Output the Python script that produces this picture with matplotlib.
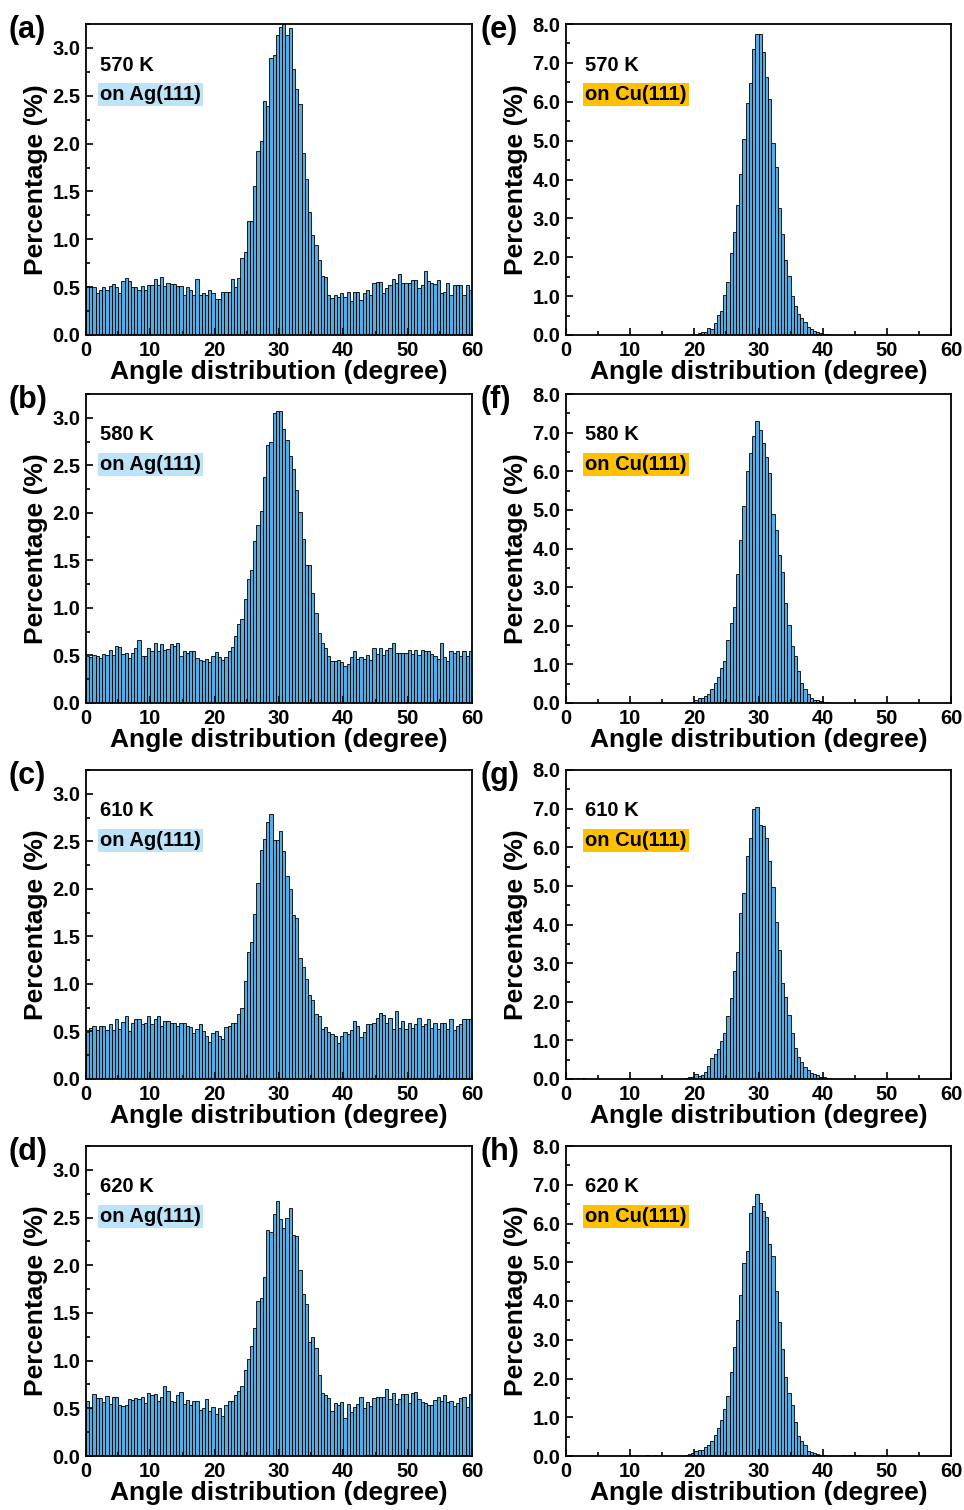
import numpy as np
import matplotlib.pyplot as plt
from matplotlib.ticker import MultipleLocator

plt.rcParams['font.family'] = ['Liberation Sans', 'DejaVu Sans']
plt.rcParams['font.weight'] = 'bold'

# ## Data: angle histograms, 0.5 degree bins from 0 to 60 degree (left edges)
bin_w = 0.5
angle = np.arange(0, 60, bin_w)

temps = ['570 K', '580 K', '610 K', '620 K']

ag_570 = [0.51, 0.50, 0.50, 0.44, 0.47, 0.50, 0.47, 0.51, 0.53, 0.50,
          0.44, 0.56, 0.60, 0.56, 0.50, 0.50, 0.47, 0.51, 0.47, 0.52,
          0.52, 0.59, 0.52, 0.61, 0.51, 0.54, 0.53, 0.53, 0.51, 0.51,
          0.42, 0.50, 0.47, 0.42, 0.59, 0.42, 0.44, 0.42, 0.47, 0.44,
          0.38, 0.38, 0.45, 0.45, 0.45, 0.58, 0.50, 0.60, 0.80, 0.87,
          1.19, 1.19, 1.56, 1.92, 2.03, 2.45, 2.39, 2.89, 2.93, 3.14,
          3.22, 3.25, 3.13, 3.21, 2.78, 2.57, 2.41, 1.90, 1.63, 1.29,
          1.05, 0.94, 0.78, 0.62, 0.61, 0.42, 0.39, 0.42, 0.40, 0.44,
          0.40, 0.45, 0.36, 0.45, 0.45, 0.37, 0.44, 0.47, 0.42, 0.54,
          0.55, 0.55, 0.44, 0.49, 0.52, 0.59, 0.54, 0.64, 0.54, 0.54,
          0.54, 0.57, 0.57, 0.49, 0.52, 0.67, 0.56, 0.54, 0.53, 0.57,
          0.44, 0.45, 0.54, 0.42, 0.52, 0.52, 0.52, 0.42, 0.52, 0.47]

ag_580 = [0.49, 0.48, 0.50, 0.49, 0.47, 0.52, 0.50, 0.56, 0.50, 0.60,
          0.59, 0.52, 0.53, 0.47, 0.53, 0.58, 0.66, 0.49, 0.49, 0.58,
          0.55, 0.63, 0.55, 0.62, 0.56, 0.57, 0.62, 0.60, 0.63, 0.49,
          0.55, 0.53, 0.55, 0.55, 0.47, 0.45, 0.44, 0.46, 0.43, 0.49,
          0.54, 0.48, 0.45, 0.48, 0.55, 0.59, 0.70, 0.83, 0.88, 1.09,
          1.30, 1.40, 1.70, 1.87, 2.02, 2.38, 2.71, 2.74, 3.05, 3.07,
          3.07, 2.88, 2.77, 2.60, 2.46, 2.24, 2.01, 1.72, 1.45, 1.45,
          1.16, 0.95, 0.74, 0.63, 0.58, 0.49, 0.44, 0.44, 0.45, 0.43,
          0.39, 0.41, 0.48, 0.55, 0.46, 0.48, 0.46, 0.50, 0.45, 0.58,
          0.52, 0.58, 0.51, 0.56, 0.58, 0.63, 0.53, 0.53, 0.53, 0.53,
          0.56, 0.52, 0.56, 0.51, 0.56, 0.55, 0.55, 0.52, 0.49, 0.46,
          0.63, 0.48, 0.44, 0.55, 0.53, 0.55, 0.49, 0.55, 0.49, 0.55]

ag_610 = [0.49, 0.54, 0.56, 0.52, 0.56, 0.56, 0.52, 0.58, 0.52, 0.63,
          0.53, 0.60, 0.66, 0.51, 0.59, 0.63, 0.63, 0.58, 0.59, 0.66,
          0.58, 0.63, 0.66, 0.56, 0.61, 0.61, 0.59, 0.59, 0.56, 0.59,
          0.59, 0.56, 0.55, 0.48, 0.53, 0.58, 0.51, 0.45, 0.39, 0.48,
          0.51, 0.45, 0.42, 0.55, 0.56, 0.59, 0.59, 0.68, 0.75, 1.03,
          1.34, 1.44, 1.74, 2.06, 2.41, 2.52, 2.70, 2.79, 2.51, 2.51,
          2.61, 2.40, 2.13, 2.00, 1.72, 1.69, 1.27, 1.18, 1.05, 0.88,
          0.83, 0.68, 0.66, 0.53, 0.55, 0.49, 0.47, 0.45, 0.38, 0.45,
          0.49, 0.47, 0.52, 0.61, 0.56, 0.44, 0.49, 0.58, 0.58, 0.59,
          0.64, 0.69, 0.67, 0.59, 0.64, 0.53, 0.71, 0.54, 0.61, 0.53,
          0.59, 0.54, 0.58, 0.64, 0.56, 0.58, 0.63, 0.54, 0.59, 0.53,
          0.59, 0.59, 0.53, 0.63, 0.52, 0.56, 0.58, 0.63, 0.63, 0.63]

ag_620 = [0.58, 0.50, 0.65, 0.61, 0.61, 0.57, 0.63, 0.55, 0.62, 0.62,
          0.53, 0.52, 0.53, 0.60, 0.59, 0.61, 0.60, 0.62, 0.56, 0.66,
          0.64, 0.65, 0.58, 0.62, 0.73, 0.68, 0.58, 0.57, 0.64, 0.67,
          0.55, 0.59, 0.53, 0.58, 0.58, 0.48, 0.50, 0.60, 0.47, 0.51,
          0.44, 0.50, 0.42, 0.53, 0.58, 0.58, 0.64, 0.68, 0.73, 0.90,
          1.02, 1.15, 1.34, 1.62, 1.66, 1.88, 2.37, 2.35, 2.54, 2.67,
          2.48, 2.39, 2.50, 2.60, 2.32, 2.31, 1.95, 1.70, 1.59, 1.20,
          1.25, 1.13, 0.85, 0.66, 0.64, 0.61, 0.47, 0.56, 0.53, 0.57,
          0.40, 0.55, 0.46, 0.51, 0.55, 0.62, 0.50, 0.57, 0.52, 0.61,
          0.62, 0.62, 0.62, 0.70, 0.60, 0.66, 0.54, 0.60, 0.65, 0.65,
          0.56, 0.66, 0.67, 0.60, 0.57, 0.56, 0.53, 0.53, 0.59, 0.62,
          0.58, 0.64, 0.57, 0.58, 0.52, 0.56, 0.61, 0.62, 0.51, 0.65]

cu_570 = [0.00, 0.00, 0.00, 0.00, 0.00, 0.00, 0.00, 0.00, 0.00, 0.00,
          0.01, 0.00, 0.00, 0.00, 0.00, 0.00, 0.00, 0.00, 0.00, 0.01,
          0.00, 0.00, 0.00, 0.00, 0.00, 0.00, 0.00, 0.00, 0.00, 0.00,
          0.00, 0.00, 0.00, 0.00, 0.01, 0.00, 0.00, 0.00, 0.01, 0.02,
          0.03, 0.04, 0.07, 0.09, 0.17, 0.15, 0.31, 0.52, 0.63, 1.03,
          1.37, 2.11, 2.65, 3.35, 4.15, 5.03, 5.98, 6.47, 7.35, 7.74,
          7.74, 7.29, 6.63, 6.06, 4.95, 4.32, 3.26, 2.59, 1.93, 1.51,
          1.00, 0.74, 0.54, 0.43, 0.33, 0.20, 0.15, 0.11, 0.09, 0.05,
          0.03, 0.02, 0.01, 0.00, 0.00, 0.01, 0.00, 0.00, 0.00, 0.00,
          0.00, 0.00, 0.00, 0.00, 0.00, 0.00, 0.00, 0.00, 0.00, 0.00,
          0.00, 0.00, 0.00, 0.00, 0.00, 0.00, 0.00, 0.00, 0.00, 0.00,
          0.00, 0.00, 0.00, 0.00, 0.00, 0.00, 0.00, 0.00, 0.00, 0.00]

cu_580 = [0.00, 0.00, 0.01, 0.00, 0.00, 0.00, 0.00, 0.00, 0.00, 0.00,
          0.00, 0.00, 0.00, 0.01, 0.00, 0.00, 0.00, 0.00, 0.00, 0.00,
          0.00, 0.00, 0.00, 0.00, 0.00, 0.00, 0.00, 0.00, 0.00, 0.00,
          0.00, 0.00, 0.00, 0.00, 0.00, 0.00, 0.01, 0.00, 0.01, 0.03,
          0.07, 0.12, 0.12, 0.18, 0.24, 0.35, 0.53, 0.67, 0.90, 1.09,
          1.62, 2.08, 2.48, 3.34, 4.23, 5.09, 6.00, 6.47, 6.91, 7.29,
          7.08, 6.73, 6.36, 5.96, 4.90, 4.47, 3.84, 3.39, 2.59, 2.03,
          1.47, 1.21, 0.84, 0.53, 0.35, 0.24, 0.14, 0.09, 0.07, 0.05,
          0.03, 0.02, 0.00, 0.00, 0.00, 0.00, 0.00, 0.00, 0.00, 0.00,
          0.00, 0.00, 0.00, 0.00, 0.00, 0.00, 0.00, 0.00, 0.00, 0.00,
          0.00, 0.00, 0.00, 0.00, 0.00, 0.00, 0.01, 0.00, 0.00, 0.00,
          0.00, 0.00, 0.00, 0.00, 0.00, 0.00, 0.00, 0.00, 0.00, 0.00]

cu_610 = [0.00, 0.02, 0.00, 0.03, 0.00, 0.02, 0.00, 0.00, 0.00, 0.00,
          0.00, 0.00, 0.00, 0.00, 0.00, 0.00, 0.00, 0.00, 0.00, 0.02,
          0.00, 0.00, 0.00, 0.00, 0.00, 0.00, 0.00, 0.00, 0.01, 0.00,
          0.00, 0.00, 0.00, 0.00, 0.00, 0.00, 0.00, 0.03, 0.05, 0.04,
          0.12, 0.08, 0.10, 0.19, 0.34, 0.55, 0.66, 0.77, 0.98, 1.18,
          1.63, 2.10, 2.79, 3.28, 4.30, 4.82, 5.78, 6.25, 6.98, 7.04,
          6.57, 6.55, 6.23, 5.65, 4.96, 4.06, 3.33, 2.49, 2.12, 1.65,
          1.20, 0.81, 0.58, 0.43, 0.32, 0.23, 0.15, 0.12, 0.10, 0.06,
          0.06, 0.03, 0.01, 0.00, 0.00, 0.00, 0.00, 0.00, 0.00, 0.00,
          0.00, 0.00, 0.00, 0.00, 0.00, 0.00, 0.00, 0.00, 0.00, 0.00,
          0.00, 0.00, 0.00, 0.00, 0.00, 0.00, 0.00, 0.00, 0.00, 0.00,
          0.00, 0.00, 0.00, 0.00, 0.00, 0.00, 0.00, 0.00, 0.00, 0.00]

cu_620 = [0.01, 0.00, 0.01, 0.00, 0.01, 0.00, 0.00, 0.01, 0.00, 0.00,
          0.01, 0.00, 0.00, 0.00, 0.00, 0.00, 0.00, 0.00, 0.00, 0.00,
          0.00, 0.00, 0.00, 0.00, 0.00, 0.02, 0.01, 0.02, 0.00, 0.00,
          0.00, 0.00, 0.00, 0.01, 0.00, 0.00, 0.00, 0.03, 0.05, 0.08,
          0.12, 0.15, 0.16, 0.23, 0.29, 0.40, 0.55, 0.72, 0.94, 1.21,
          1.54, 2.16, 2.81, 3.50, 4.15, 4.99, 5.28, 6.27, 6.44, 6.76,
          6.54, 6.33, 6.17, 5.48, 5.15, 4.25, 3.47, 2.77, 2.04, 1.63,
          1.31, 0.87, 0.51, 0.40, 0.29, 0.12, 0.11, 0.08, 0.06, 0.03,
          0.02, 0.01, 0.00, 0.00, 0.00, 0.01, 0.02, 0.00, 0.02, 0.01,
          0.00, 0.02, 0.00, 0.00, 0.00, 0.00, 0.00, 0.00, 0.00, 0.00,
          0.00, 0.00, 0.00, 0.00, 0.00, 0.00, 0.00, 0.00, 0.00, 0.00,
          0.00, 0.00, 0.00, 0.00, 0.00, 0.00, 0.00, 0.00, 0.01, 0.00]

ag_data = [ag_570, ag_580, ag_610, ag_620]
cu_data = [cu_570, cu_580, cu_610, cu_620]

# ## Layout (pixel boxes of each axes in the 964x1510 figure)
W, H = 964, 1510
rows_px = [(24, 335), (394, 703), (770, 1079), (1146, 1456)]
cols_px = [(86, 472), (566, 951)]
bar_col = '#55ACE0'
box_col = ['#BDE3F8', '#FFC000']
surf = ['on Ag(111)', 'on Cu(111)']

fig = plt.figure(figsize=(W / 100, H / 100), dpi=100)

for col in range(2):
    for row in range(4):
        x0, x1 = cols_px[col]
        y0, y1 = rows_px[row]
        ax = fig.add_axes([x0 / W, 1 - y1 / H, (x1 - x0) / W, (y1 - y0) / H])
        vals = ag_data[row] if col == 0 else cu_data[row]
        ax.bar(angle, vals, width=bin_w, align='edge', color=bar_col,
               edgecolor='black', linewidth=0.6)

        ax.set_xlim(0, 60)
        ax.xaxis.set_major_locator(MultipleLocator(10))
        ax.xaxis.set_minor_locator(MultipleLocator(5))
        if col == 0:
            ax.set_ylim(0, 3.25)
            ax.yaxis.set_major_locator(MultipleLocator(0.5))
            ax.yaxis.set_minor_locator(MultipleLocator(0.25))
        else:
            ax.set_ylim(0, 8.0)
            ax.yaxis.set_major_locator(MultipleLocator(1.0))
            ax.yaxis.set_minor_locator(MultipleLocator(0.5))
        ax.yaxis.set_major_formatter('{x:.1f}')

        ax.tick_params(which='both', direction='in', labelsize=14.5, pad=4,
                       width=1.2)
        ax.tick_params(which='major', length=5)
        ax.tick_params(which='minor', length=3)
        for sp in ax.spines.values():
            sp.set_linewidth(1.3)

        ax.set_xlabel('Angle distribution (degree)', fontsize=19,
                      fontweight='bold', labelpad=0)
        ax.set_ylabel('Percentage (%)', fontsize=19, fontweight='bold',
                      labelpad=3)

        tx = 0.036 if col == 0 else 0.05
        ax.text(tx, 0.868, temps[row], transform=ax.transAxes, fontsize=14.5,
                fontweight='bold', va='center')
        ax.text(tx, 0.773, surf[col], transform=ax.transAxes, fontsize=14.5,
                fontweight='bold', va='center',
                bbox=dict(boxstyle='square,pad=0.1', fc=box_col[col], ec='none'))

        letter = '(' + 'abcdefgh'[col * 4 + row] + ')'
        lx = 9 if col == 0 else 480
        fig.text(lx / W, 1 - (y0 + 6) / H, letter, fontsize=22,
                 fontweight='bold', va='center', ha='left')

plt.savefig('out.png', dpi=100)
plt.close()
